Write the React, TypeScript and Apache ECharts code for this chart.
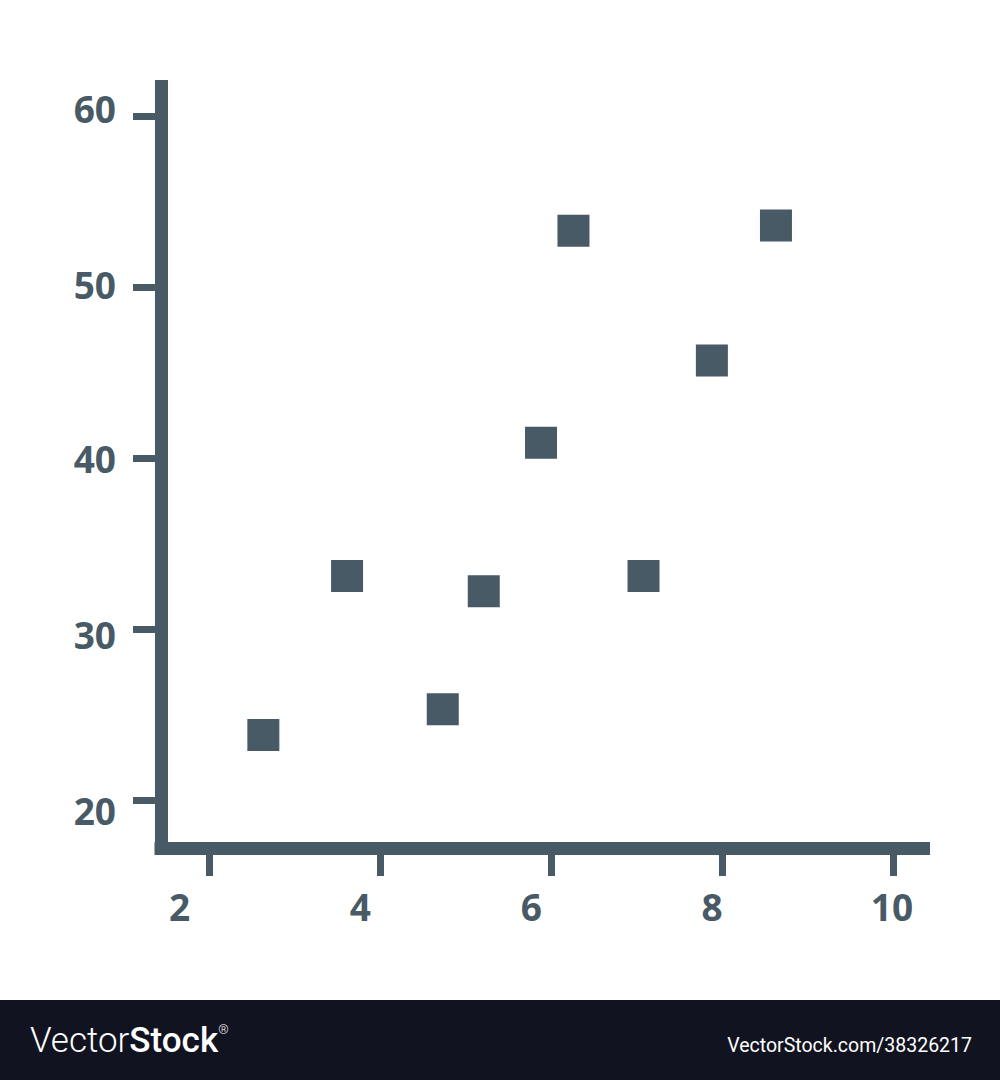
import React, { useEffect, useRef } from "react";
import * as echarts from "echarts";

// ---- data ----
const xTickValues = [2, 4, 6, 8, 10];
const yTickValues = [20, 30, 40, 50, 60];
const xValues = [2.63, 3.61, 4.73, 5.21, 5.88, 6.26, 7.08, 7.88, 8.63];
const yValues = [23.8, 33.1, 25.3, 32.2, 40.9, 53.3, 33.1, 45.7, 53.6];
const watermarkLeft = ["Vector", "Stock", "®"];
const watermarkRight = "VectorStock.com/38326217";

// ---- layout constants (label nudges, px) ----
const xLabelShift = [-30, -20, -20, -10, -1];
const yLabelShift = [11, 6, 0, -3, -8]; // positive = down

const INK = "#475a66";
const FONT = "'Open Sans', Lato, sans-serif";

export default function App() {
  const ref = useRef<HTMLDivElement>(null);
  useEffect(() => {
    if (!ref.current) return;
    const chart = echarts.init(ref.current, null, { renderer: "svg" });

    const xRich: Record<string, any> = {};
    xTickValues.forEach((v, i) => {
      const s = xLabelShift[i];
      xRich["x" + i] = {
        fontFamily: FONT,
        fontWeight: 700,
        fontSize: 37,
        color: INK,
        padding: s < 0 ? [0, -2 * s, 0, 0] : [0, 0, 0, 2 * s],
      };
    });
    const yRich: Record<string, any> = {};
    yTickValues.forEach((v, i) => {
      const s = yLabelShift[i];
      yRich["y" + i] = {
        fontFamily: FONT,
        fontWeight: 700,
        fontSize: 37,
        color: INK,
        padding: s > 0 ? [2 * s, 0, 0, 0] : [0, 0, -2 * s, 0],
      };
    });

    const data = xValues.map((x, i) => [x, yValues[i]]);

    chart.setOption({
      animation: false,
      backgroundColor: "#ffffff",
      grid: { left: 161, right: 76.5, top: 86.5, bottom: 232, containLabel: false },
      xAxis: {
        type: "value",
        min: 1.432,
        max: 10.357,
        axisLine: { show: true, lineStyle: { color: INK, width: 13, cap: "square" } },
        axisTick: {
          show: true,
          length: 28,
          lineStyle: { color: INK, width: 7 },
          customValues: xTickValues,
        },
        axisLabel: {
          show: true,
          margin: 40,
          customValues: xTickValues,
          formatter: (v: number) => {
            const i = xTickValues.indexOf(v);
            return `{x${i}|${v}}`;
          },
          rich: xRich,
        },
        splitLine: { show: false },
      },
      yAxis: {
        type: "value",
        min: 17.19,
        max: 61.73,
        axisLine: { show: true, lineStyle: { color: INK, width: 13, cap: "square" } },
        axisTick: {
          show: true,
          length: 28,
          lineStyle: { color: INK, width: 7 },
          customValues: yTickValues,
        },
        axisLabel: {
          show: true,
          margin: 45,
          customValues: yTickValues,
          formatter: (v: number) => {
            const i = yTickValues.indexOf(v);
            return `{y${i}|${v}}`;
          },
          rich: yRich,
        },
        splitLine: { show: false },
      },
      series: [
        {
          type: "scatter",
          symbol: "rect",
          symbolSize: 32,
          itemStyle: { color: INK, opacity: 1 },
          data,
        },
      ],
      graphic: [
        {
          type: "rect",
          left: 0,
          top: 1000,
          shape: { width: 1000, height: 80 },
          style: { fill: "#121320" },
          silent: true,
        },
        {
          type: "text",
          left: 30,
          top: 1023,
          style: {
            text: `{a|${watermarkLeft[0]}}{b|${watermarkLeft[1]}}{c|${watermarkLeft[2]}}`,
            rich: {
              a: { fontFamily: "Roboto, sans-serif", fontWeight: 300, fontSize: 35, fill: "#ffffff" },
              b: { fontFamily: "Roboto, sans-serif", fontWeight: 500, fontSize: 35, fill: "#ffffff" },
              c: {
                fontFamily: "Roboto, sans-serif",
                fontWeight: 300,
                fontSize: 13,
                fill: "#ffffff",
                verticalAlign: "top",
                padding: [0, 0, 18, 0],
              },
            },
          },
        },
        {
          type: "text",
          right: 28,
          top: 1035,
          style: {
            text: watermarkRight,
            fontFamily: "Roboto, sans-serif",
            fontWeight: 400,
            fontSize: 19.5,
            fill: "#ffffff",
          },
        },
      ],
    });
    return () => chart.dispose();
  }, []);
  return (
    <div
      ref={ref}
      style={{ position: "absolute", left: 0, top: 0, width: 1000, height: 1080 }}
    />
  );
}
